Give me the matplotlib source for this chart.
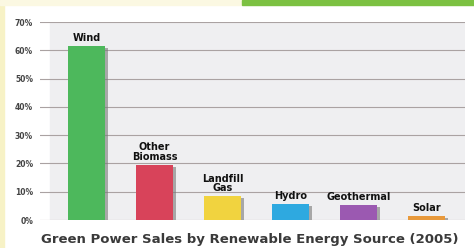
import matplotlib.pyplot as plt
import matplotlib.patheffects as pe
from matplotlib.patches import Rectangle

sources = ["Wind", "Other\nBiomass", "Landfill\nGas", "Hydro", "Geothermal", "Solar"]
shares = [61.5, 19.5, 8.4, 5.7, 5.3, 1.5]
colors = ["#4db85c", "#d8435a", "#f1d33f", "#2ea9e0", "#9b59b1", "#e8993b"]
ticks = [0, 10, 20, 30, 40, 50, 60, 70]
title = "Green Power Sales by Renewable Energy Source (2005)"

W, H = 474, 248
fig = plt.figure(figsize=(W / 100, H / 100), dpi=100)
fig.patch.set_facecolor("white")

# frame decorations
fig.add_artist(Rectangle((0, 0), 4 / W, 1, transform=fig.transFigure,
                         color="#f7f2c6", zorder=0))
fig.add_artist(Rectangle((0, 1 - 5 / H), 242 / W, 5 / H, transform=fig.transFigure,
                         color="#fbf8e2", zorder=0))
fig.add_artist(Rectangle((242 / W, 1 - 5 / H), 1 - 242 / W, 5 / H,
                         transform=fig.transFigure, color="#7cc142", zorder=1))

ax = fig.add_axes([40 / W, 28 / H, 425 / W, 198 / H])
ax.set_facecolor("white")
ax.add_patch(Rectangle((10 / 425, 0), 1 - 10 / 425, 1, transform=ax.transAxes,
                       color="#efeff1", zorder=0))

x = list(range(len(sources)))
bars = ax.bar(x, shares, width=0.54, color=colors, zorder=3)
for b in bars:
    b.set_path_effects([pe.SimplePatchShadow(offset=(2, -1.5), shadow_rgbFace="#777777",
                                             alpha=0.6), pe.Normal()])

for xi, v, name in zip(x, shares, sources):
    ax.text(xi, v + 1.0, name, ha="center", va="bottom", fontsize=7,
            fontweight="bold", color="#111111", linespacing=0.95, zorder=4)

ax.set_xlim(-0.684, 5.566)
ax.set_ylim(0, 70)
ax.set_yticks(ticks)
ax.set_yticklabels([f"{t}%" for t in ticks], fontsize=5.5, fontweight="bold",
                   color="#444444")
ax.set_xticks([])
ax.tick_params(axis="y", length=0, pad=5)
ax.grid(axis="y", color="#aaa2a2", linewidth=0.8, zorder=1)
for s in ax.spines.values():
    s.set_visible(False)

fig.text(250 / W, 1 - 240 / H, title, ha="center", va="center", fontsize=9.5,
         fontweight="bold", color="#3a3a3a")

fig.savefig("out.png", dpi=100)
